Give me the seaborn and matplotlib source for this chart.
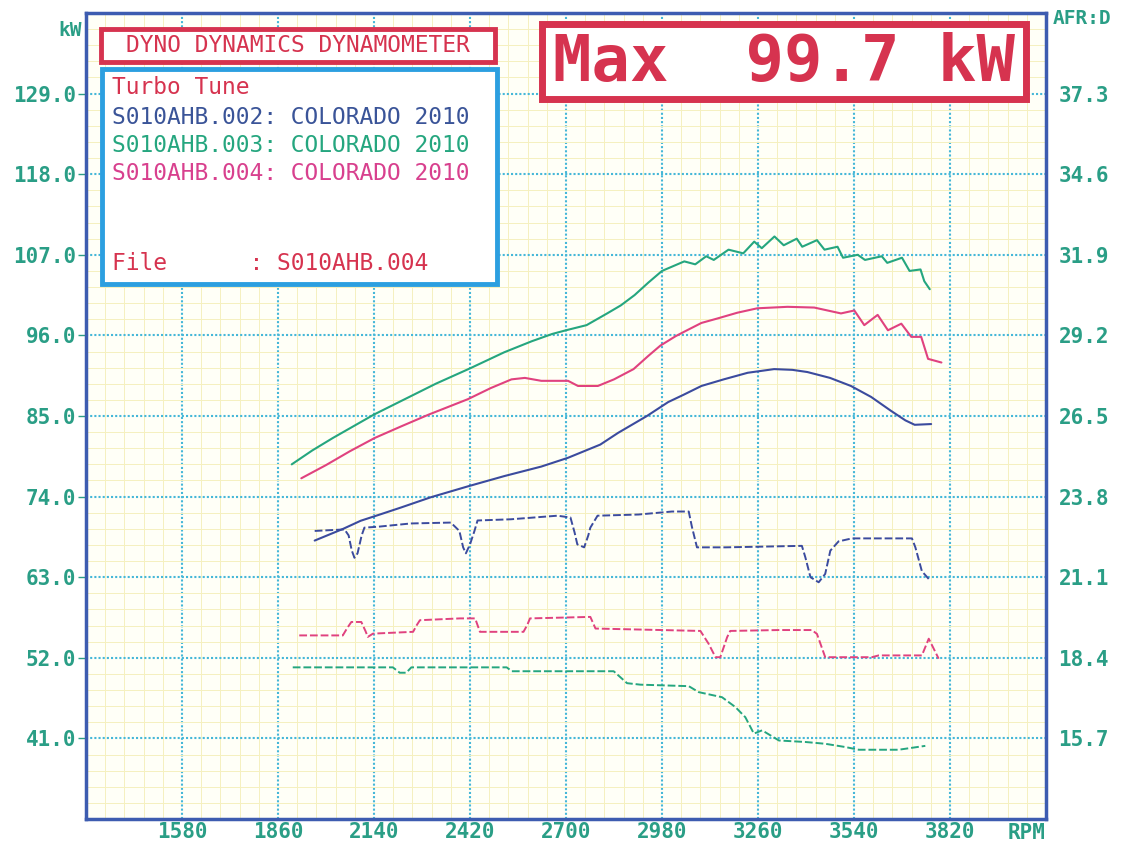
import numpy as np
import matplotlib
matplotlib.use("Agg")
import matplotlib.pyplot as plt
import seaborn as sns
from matplotlib.patches import Rectangle

# --- power runs (rpm, kW) ---
rpm_002 = [1967, 2050, 2101, 2160, 2218, 2305, 2414, 2520, 2628, 2706, 2800, 2852, 2936,
           2998, 3043, 3095, 3160, 3230, 3307, 3360, 3404, 3470, 3531, 3590, 3648, 3690,
           3717, 3765]
kw_002 = [68.0, 69.6, 70.7, 71.6, 72.5, 73.9, 75.4, 76.8, 78.1, 79.3, 81.1, 82.7, 85.0,
          86.9, 87.9, 89.1, 90.0, 90.9, 91.4, 91.3, 91.0, 90.2, 89.1, 87.6, 85.7, 84.4,
          83.8, 83.9]

rpm_003 = [1900, 1960, 2020, 2080, 2140, 2200, 2260, 2320, 2420, 2520, 2600, 2660, 2700,
           2760, 2820, 2860, 2900, 2940, 2980, 3045, 3077, 3109, 3131, 3174, 3217, 3249,
           3271, 3308, 3335, 3373, 3389, 3432, 3454, 3492, 3508, 3551, 3572, 3621, 3637,
           3680, 3702, 3734, 3745, 3761]
kw_003 = [78.4, 80.3, 82.0, 83.6, 85.2, 86.6, 88.0, 89.4, 91.5, 93.7, 95.2, 96.2, 96.7,
          97.4, 99.0, 100.1, 101.5, 103.2, 104.8, 106.1, 105.7, 106.8, 106.3, 107.7, 107.2,
          108.8, 107.9, 109.5, 108.3, 109.2, 108.1, 109.0, 107.7, 108.1, 106.6, 107.0,
          106.3, 106.8, 105.9, 106.6, 104.8, 105.0, 103.4, 102.3]

rpm_004 = [1928, 2000, 2070, 2142, 2220, 2300, 2414, 2480, 2541, 2580, 2628, 2706, 2735,
           2793, 2840, 2897, 2940, 2975, 3020, 3053, 3095, 3141, 3200, 3258, 3346, 3424,
           3502, 3541, 3570, 3609, 3639, 3678, 3707, 3736, 3756, 3795]
kw_004 = [76.5, 78.3, 80.2, 82.0, 83.6, 85.2, 87.3, 88.8, 90.0, 90.2, 89.8, 89.8, 89.1,
          89.1, 90.0, 91.4, 93.2, 94.6, 95.9, 96.7, 97.7, 98.3, 99.1, 99.7, 99.9, 99.8,
          99.0, 99.4, 97.4, 98.8, 96.7, 97.6, 95.8, 95.8, 92.8, 92.3]

peak_kw = 99.7

# --- air/fuel ratio traces (rpm, AFR) ---
afr_rpm_002 = [1967, 2054, 2066, 2075, 2083, 2092, 2104, 2112, 2151, 2247, 2364, 2389, 2400,
               2408, 2420, 2433, 2442, 2539, 2675, 2713, 2725, 2733, 2753, 2765, 2771, 2792,
               2912, 3009, 3058, 3067, 3082, 3165, 3388, 3398, 3413, 3437, 3456, 3471, 3495,
               3534, 3709, 3719, 3738, 3758]
afr_002 = [22.65, 22.70, 22.50, 22.00, 21.75, 21.90, 22.50, 22.76, 22.79, 22.90, 22.93,
           22.65, 22.10, 21.90, 22.20, 22.65, 23.00, 23.04, 23.16, 23.10, 22.60, 22.20,
           22.10, 22.50, 22.76, 23.16, 23.20, 23.30, 23.30, 22.80, 22.10, 22.10, 22.15,
           21.77, 21.10, 20.93, 21.21, 21.99, 22.30, 22.40, 22.40, 22.10, 21.30, 21.04]

afr_rpm_003 = [1903, 2195, 2215, 2234, 2249, 2527, 2542, 2839, 2878, 2917, 3058, 3087, 3155,
               3194, 3223, 3248, 3272, 3321, 3398, 3456, 3515, 3554, 3670, 3748]
afr_003 = [18.08, 18.08, 17.90, 17.90, 18.08, 18.08, 17.95, 17.95, 17.55, 17.50, 17.45,
           17.25, 17.08, 16.75, 16.41, 15.86, 15.97, 15.63, 15.58, 15.52, 15.41, 15.32,
           15.32, 15.45]

afr_rpm_004 = [1922, 2049, 2062, 2074, 2103, 2115, 2122, 2137, 2254, 2265, 2274, 2391, 2435,
               2449, 2576, 2587, 2595, 2771, 2786, 3092, 3116, 3136, 3150, 3170, 3179, 3320,
               3417, 3432, 3456, 3592, 3612, 3738, 3758, 3787]
afr_004 = [19.15, 19.15, 19.40, 19.60, 19.60, 19.30, 19.10, 19.21, 19.27, 19.50, 19.66,
           19.72, 19.72, 19.27, 19.27, 19.50, 19.72, 19.77, 19.38, 19.30, 18.87, 18.42,
           18.42, 19.09, 19.30, 19.33, 19.33, 19.20, 18.42, 18.42, 18.48, 18.48, 19.04, 18.37]

rpm_ticks = [1580, 1860, 2140, 2420, 2700, 2980, 3260, 3540, 3820]
kw_ticks = [41.0, 52.0, 63.0, 74.0, 85.0, 96.0, 107.0, 118.0, 129.0]
afr_ticks = [15.7, 18.4, 21.1, 23.8, 26.5, 29.2, 31.9, 34.6, 37.3]

run_names = ["S010AHB.002", "S010AHB.003", "S010AHB.004"]
vehicle = "COLORADO 2010"

BLUE = "#3b4b9e"
GREEN = "#25a67f"
PINK = "#e0427f"
TEAL = "#2a9e86"
RED = "#d6334f"
FRAME = "#3d5cb0"
CYAN = "#2c9fe0"

W, H = 1121, 843
MONO = ["DejaVu Sans Mono"]

sns.set_style("white")
plt.rcParams["font.family"] = MONO

fig = plt.figure(figsize=(W / 100, H / 100), dpi=100)
fig.patch.set_facecolor("white")

# plot frame in pixel terms of the reference
left, right, top, bottom = 86, 1046, 13, 819
ax = fig.add_axes([left / W, 1 - bottom / H, (right - left) / W, (bottom - top) / H])
ax.set_facecolor("#fffff7")

ax.set_xlim(1300, 4100)
ax.set_ylim(30, 140)

# graph-paper grid: faint yellow minor, dotted cyan major
ax.set_xticks(np.arange(1300, 4101, 56), minor=True)
ax.set_yticks(np.arange(30, 140.01, 2.2), minor=True)
ax.grid(which="minor", color="#f5f0bf", lw=0.7)
ax.grid(which="major", color="#45b7d8", lw=1.5, linestyle=(0, (1, 1)))
ax.set_axisbelow(True)

# power curves
for x, y, c in [(rpm_002, kw_002, BLUE), (rpm_003, kw_003, GREEN), (rpm_004, kw_004, PINK)]:
    sns.lineplot(x=x, y=y, color=c, lw=1.5, ax=ax, sort=False, estimator=None)

ax.set_xticks(rpm_ticks)
ax.set_xticklabels([str(v) for v in rpm_ticks])
ax.set_yticks(kw_ticks)
ax.set_yticklabels([f"{v:.1f}" for v in kw_ticks])
ax.set_xlabel("")
ax.set_ylabel("")
ax.tick_params(axis="y", which="major", length=6, width=1, color=TEAL, labelcolor=TEAL,
               labelsize=15, pad=1)
ax.tick_params(axis="x", which="major", length=0, labelcolor=TEAL, labelsize=15, pad=2)
ax.tick_params(which="minor", length=0)
for lab in ax.get_xticklabels() + ax.get_yticklabels():
    lab.set_fontweight("bold")

for s in ax.spines.values():
    s.set_color(FRAME)
    s.set_linewidth(2.5)

# AFR on the right-hand scale
ax2 = ax.twinx()
ax2.set_ylim(13.0, 40.0)
for x, y, c in [(afr_rpm_002, afr_002, BLUE), (afr_rpm_003, afr_003, GREEN),
                (afr_rpm_004, afr_004, PINK)]:
    sns.lineplot(x=x, y=y, color=c, lw=1.4, ax=ax2, sort=False, estimator=None,
                 linestyle=(0, (4, 1.5)))
ax2.set_yticks(afr_ticks)
ax2.set_yticklabels([f"{v:.1f}" for v in afr_ticks])
ax2.set_ylabel("")
ax2.tick_params(axis="y", length=0, labelcolor=TEAL, labelsize=15, pad=9)
for lab in ax2.get_yticklabels():
    lab.set_fontweight("bold")
for s in ax2.spines.values():
    s.set_visible(False)
ax2.grid(False)


def px(x, y):
    return x / W, 1 - y / H


def box(x0, y0, x1, y1, ec, lw):
    r = Rectangle(px(x0, y1), (x1 - x0) / W, (y1 - y0) / H, transform=fig.transFigure,
                  facecolor="white", edgecolor=ec, lw=lw, zorder=10)
    fig.add_artist(r)


def label(x, y, s, color, size, **kw):
    fig.text(*px(x, y), s, color=color, fontsize=size, family=MONO, zorder=11, **kw)


# header boxes
box(101, 29, 495, 62, RED, 3.5)
label(298, 46, "DYNO DYNAMICS DYNAMOMETER", RED, 16.5, ha="center", va="center")

box(102, 69, 497, 284, CYAN, 3.5)
label(112, 87, "Turbo Tune", RED, 16.5, va="center")
for i, (name, c) in enumerate(zip(run_names, ["#3a5498", GREEN, "#d8408e"])):
    label(112, 117 + i * 28, f"{name}: {vehicle}", c, 16.5, va="center")
label(112, 264, f"File      : {run_names[2]}", RED, 16.5, va="center")

box(542, 24, 1026, 99, RED, 5)
label(784, 63, f"Max  {peak_kw:.1f} kW", RED, 46, ha="center", va="center",
      fontweight="bold")

# axis captions
label(70, 30, "kW", TEAL, 14, ha="center", va="center", fontweight="bold")
label(1082, 19, "AFR:D", TEAL, 14, ha="center", va="center", fontweight="bold")
label(1027, 833, "RPM", TEAL, 15, ha="center", va="center", fontweight="bold")

fig.savefig("out.png", dpi=100)
